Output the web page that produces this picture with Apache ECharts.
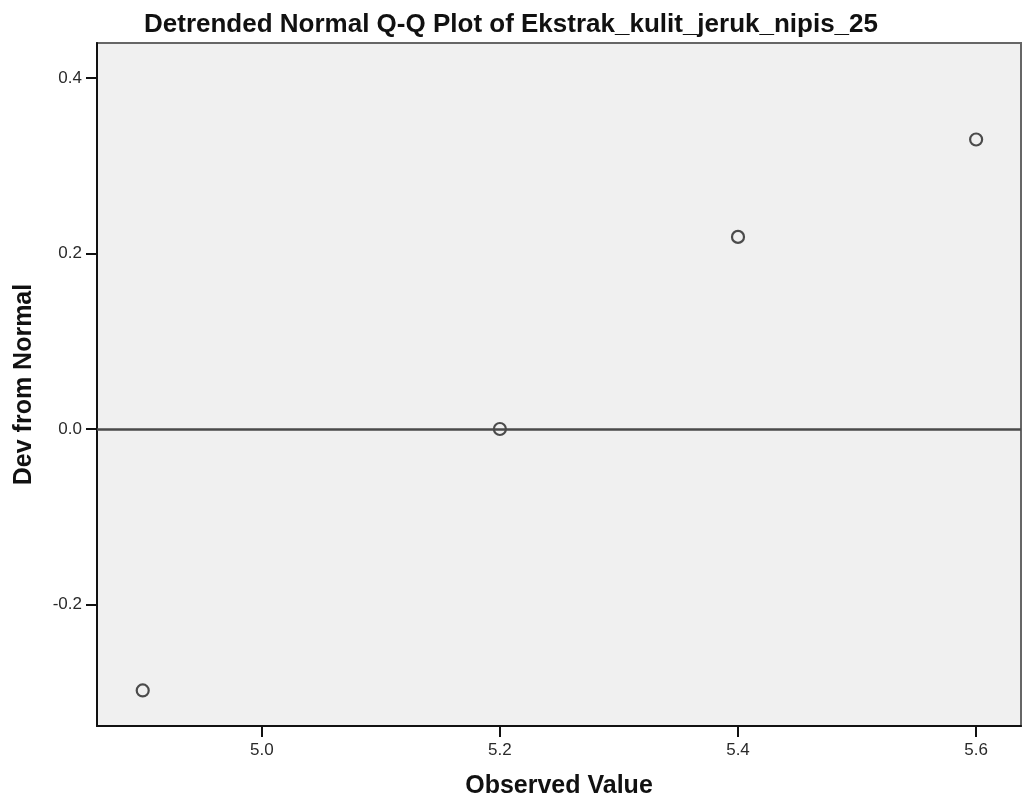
<!DOCTYPE html>
<html>
<head>
<meta charset="utf-8">
<script src="https://cdn.jsdelivr.net/npm/echarts@6/dist/echarts.min.js"></script>
</head>
<body style="margin:0; background:#fff">
<div id="chart" style="width:1022px; height:808px"></div>
<script>
// observed value vs deviation from normal
let observed = [4.9, 5.2, 5.4, 5.6]
let devFromNormal = [-0.298, 0.0, 0.219, 0.330]

let xTicks = [5.0, 5.2, 5.4, 5.6]
let yTicks = [-0.2, 0.0, 0.2, 0.4]

let points = observed.map((x, i) => [x, devFromNormal[i]])

let myChart = echarts.init(document.getElementById("chart"))
let font = "'Liberation Sans', Arial, sans-serif"

let option = {
    animation: false,
    title: {
        text: "Detrended Normal Q-Q Plot of Ekstrak_kulit_jeruk_nipis_25",
        left: 506,
        top: 7,
        textAlign: "center",
        textStyle: {
            fontFamily: font,
            fontSize: 26,
            fontWeight: "bold",
            color: "#111"
        }
    },
    grid: {
        left: 97,
        right: 1,
        top: 43,
        bottom: 82,
        show: true,
        backgroundColor: "#f0f0f0",
        borderColor: "#666",
        borderWidth: 2
    },
    xAxis: {
        type: "value",
        min: 4.8616,
        max: 5.6377,
        name: "Observed Value",
        nameLocation: "middle",
        nameGap: 48,
        nameTextStyle: {
            fontFamily: font,
            fontSize: 25,
            fontWeight: "bold",
            color: "#111"
        },
        axisLine: { show: true, onZero: false, lineStyle: { color: "#111", width: 2 } },
        axisTick: {
            show: true,
            length: 11,
            customValues: xTicks,
            lineStyle: { color: "#111", width: 2 }
        },
        axisLabel: {
            customValues: xTicks,
            margin: 16,
            fontFamily: font,
            fontSize: 17,
            color: "#2a2a2a",
            formatter: v => v.toFixed(1)
        },
        splitLine: { show: false }
    },
    yAxis: {
        type: "value",
        min: -0.3385,
        max: 0.44,
        name: "Dev from Normal",
        nameLocation: "middle",
        nameGap: 60,
        nameTextStyle: {
            fontFamily: font,
            fontSize: 25,
            fontWeight: "bold",
            color: "#111"
        },
        axisLine: { show: true, onZero: false, lineStyle: { color: "#111", width: 2 } },
        axisTick: {
            show: true,
            length: 11,
            customValues: yTicks,
            lineStyle: { color: "#111", width: 2 }
        },
        axisLabel: {
            customValues: yTicks,
            margin: 15,
            fontFamily: font,
            fontSize: 17,
            color: "#2a2a2a",
            formatter: v => v.toFixed(1)
        },
        splitLine: { show: false }
    },
    series: [
        {
            type: "scatter",
            data: points,
            symbol: "circle",
            symbolSize: 12,
            itemStyle: {
                color: "transparent",
                borderColor: "#222",
                borderWidth: 2.2
            },
            z: 3,
            markLine: {
                silent: true,
                symbol: "none",
                label: { show: false },
                lineStyle: { color: "#4a4a4a", width: 2.5, type: "solid" },
                data: [{ yAxis: 0 }]
            }
        }
    ]
}
myChart.setOption(option)
</script>
</body>
</html>
